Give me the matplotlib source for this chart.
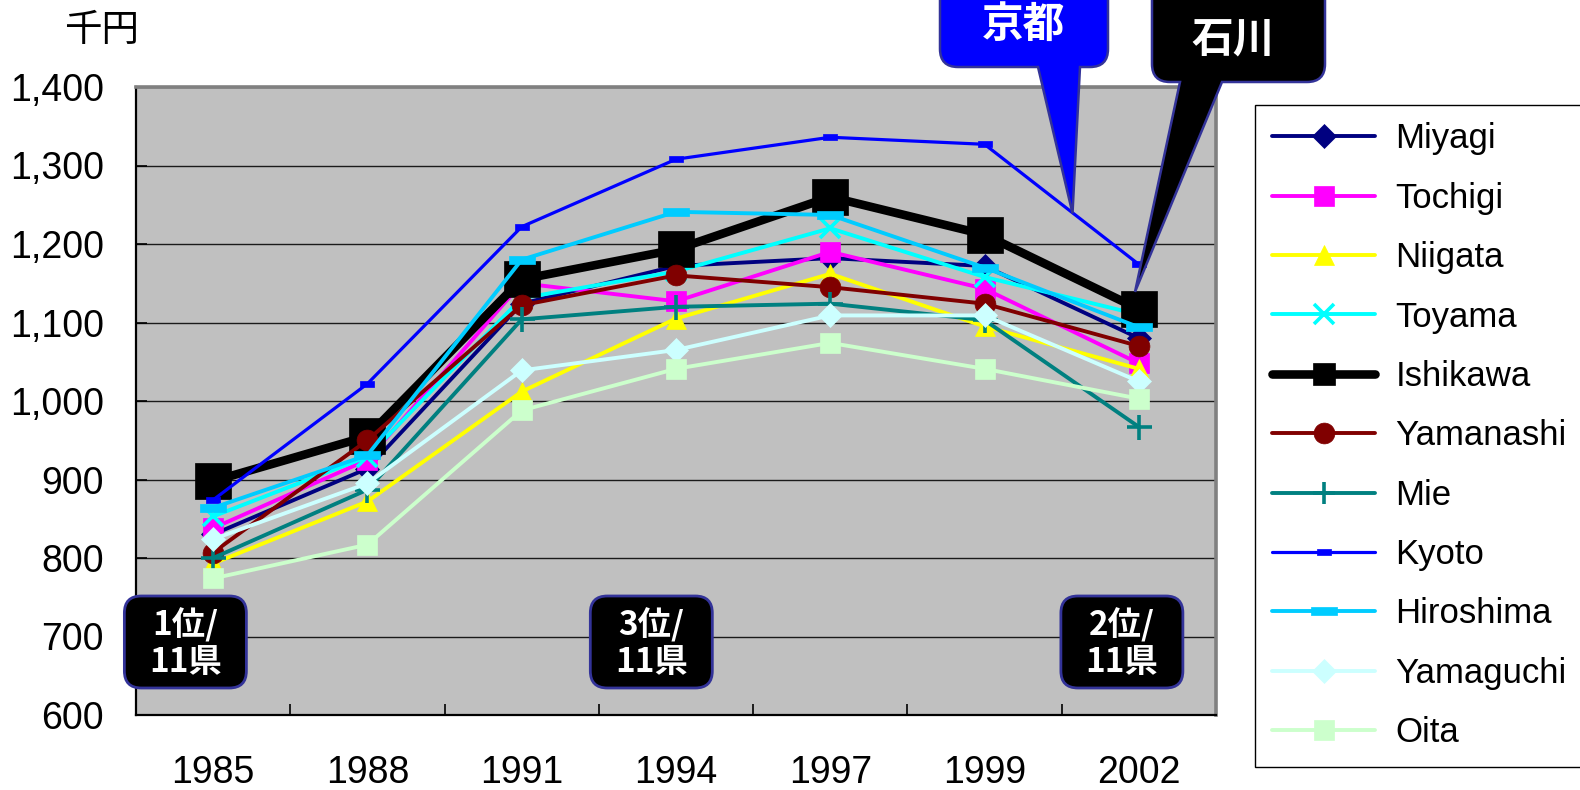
import matplotlib
matplotlib.use('Agg')
import matplotlib.pyplot as plt
from matplotlib.path import Path
from matplotlib.patches import PathPatch, FancyBboxPatch
from matplotlib.lines import Line2D
from matplotlib.transforms import ScaledTranslation, IdentityTransform
from matplotlib.ticker import FuncFormatter

plt.rcParams['font.family'] = ['Liberation Sans', 'Noto Sans CJK JP', 'DejaVu Sans']

# ---------------- data ----------------
years = ['1985', '1988', '1991', '1994', '1997', '1999', '2002']
miyagi = [830, 914, 1124, 1172, 1182, 1172, 1080]
tochigi = [838, 925, 1150, 1127, 1190, 1143, 1048]
niigata = [793, 872, 1012, 1105, 1162, 1095, 1041]
toyama = [853, 929, 1131, 1165, 1220, 1158, 1110]
ishikawa = [898, 955, 1155, 1193, 1260, 1212, 1117]
yamanashi = [807, 950, 1122, 1160, 1145, 1124, 1070]
mie = [800, 887, 1104, 1120, 1124, 1103, 967]
kyoto = [874, 1022, 1222, 1308, 1336, 1327, 1174]
hiroshima = [864, 931, 1180, 1241, 1237, 1170, 1094]
yamaguchi = [824, 895, 1039, 1065, 1109, 1109, 1025]
oita = [774, 817, 988, 1041, 1074, 1041, 1003]

series_names = ['Miyagi', 'Tochigi', 'Niigata', 'Toyama', 'Ishikawa', 'Yamanashi',
                'Mie', 'Kyoto', 'Hiroshima', 'Yamaguchi', 'Oita']
series_values = [miyagi, tochigi, niigata, toyama, ishikawa, yamanashi,
                 mie, kyoto, hiroshima, yamaguchi, oita]

rank_labels = ['1位/\n11県', '3位/\n11県', '2位/\n11県']
rank_index = [0, 3, 6]
unit_label = '千円'
callout_labels = ['京都', '石川']

# ---------------- styles ----------------
kyoto_mk = [(-1, -0.45), (1, -0.45), (1, 0.45), (-1, 0.45), (-1, -0.45)]
hiro_mk = [(-1, -0.3), (1, -0.3), (1, 0.3), (-1, 0.3), (-1, -0.3)]
styles = [
    dict(color='#000080', marker='D', ms=12, lw=2.8),
    dict(color='#FF00FF', marker='s', ms=15, lw=2.8),
    dict(color='#FFFF00', marker='^', ms=15, lw=2.8),
    dict(color='#00FFFF', marker='x', ms=15, lw=2.8, mew=2.6),
    dict(color='#000000', marker='s', ms=26, lw=6.2),
    dict(color='#800000', marker='o', ms=15, lw=2.8),
    dict(color='#008080', marker='+', ms=18, lw=2.8, mew=2.6),
    dict(color='#0000FF', marker=kyoto_mk, ms=9.5, lw=2.3),
    dict(color='#00CCFF', marker=hiro_mk, ms=19, lw=2.8),
    dict(color='#CCFFFF', marker='D', ms=12, lw=2.8),
    dict(color='#CCFFCC', marker='s', ms=15, lw=2.8),
]
legend_ms = [12, 15, 15, 15, 16, 15, 16, 9.5, 19, 12, 15]

W, H = 1580, 790
def fx(px):
    return px / W
def fy(py):
    return 1 - py / H

fig = plt.figure(figsize=(15.8, 7.9), dpi=100)
ax = fig.add_axes([fx(136), fy(715), (1216 - 136) / W, (715 - 87) / H])
ax.set_facecolor('#C0C0C0')

x = list(range(len(years)))
handles = []
for name, vals, st, lms in zip(series_names, series_values, styles, legend_ms):
    mew = st.get('mew', 0.5)
    ax.plot(x, vals, color=st['color'], lw=st['lw'], marker=st['marker'],
            ms=st['ms'], mfc=st['color'], mec=st['color'], mew=mew,
            solid_joinstyle='round', clip_on=False)
    handles.append(Line2D([], [], color=st['color'], lw=st['lw'], marker=st['marker'],
                          ms=lms, mfc=st['color'], mec=st['color'], mew=mew,
                          solid_capstyle='round', label=name))

ax.set_xlim(-0.5, len(years) - 0.5)
ax.set_ylim(600, 1400)
ax.set_yticks(range(600, 1401, 100))
ax.yaxis.set_major_formatter(FuncFormatter(lambda v, p: f'{int(v):,}'))
ax.set_xticks(x)
ax.set_xticklabels(years)
ax.set_xticks([i - 0.5 for i in range(len(years) + 1)], minor=True)
ax.tick_params(axis='x', which='major', length=0, pad=29, labelsize=27)
ax.tick_params(axis='x', which='minor', direction='in', length=8, width=1.2, color='black')
ax.tick_params(axis='y', which='major', direction='in', length=8, width=1.2,
               pad=23, labelsize=27, color='black')
ax.grid(axis='y', color='#1a1a1a', lw=1.0)
ax.set_axisbelow(True)
for s in ['left', 'bottom']:
    ax.spines[s].set_color('black')
    ax.spines[s].set_linewidth(1.6)
for s in ['top', 'right']:
    ax.spines[s].set_color('#808080')
    ax.spines[s].set_linewidth(2.6)

# unit label
fig.text(fx(102), fy(30), unit_label, ha='center', va='center', fontsize=27,
         family=['Noto Sans CJK JP'])

# legend
leg = fig.legend(handles=handles, loc='upper left', bbox_to_anchor=(fx(1255), fy(105)),
                 bbox_transform=fig.transFigure, borderaxespad=0, fontsize=25,
                 frameon=True, fancybox=False, framealpha=1, edgecolor='black',
                 handlelength=2.95, handletextpad=0.6, labelspacing=0.76,
                 borderpad=0.5)
leg.get_frame().set_linewidth(1.0)

# rank boxes at bottom
offsets = [-0.18, -0.16, -0.11]
for lab, idx, off in zip(rank_labels, rank_index, offsets):
    trans = fig.dpi_scale_trans + ScaledTranslation(idx + off, 693, ax.transData)
    w, h = 1.22, 0.92
    box = FancyBboxPatch((-w / 2, -h / 2), w, h,
                         boxstyle='round,pad=0,rounding_size=0.17',
                         fc='black', ec='#333399', lw=2, transform=trans, zorder=6)
    fig.add_artist(box)
    fig.text(idx + off, 691, lab, transform=ax.transData, ha='center', va='center',
             color='white', fontsize=24, fontweight='bold', linespacing=1.12,
             family=['Noto Sans CJK JP'], zorder=7)

# callouts
def callout(x0, x1, ybot_img, r, bx0, bx1, tip_data, color, text, tx_img, ty_img):
    tx, ty = ax.transData.transform(tip_data)
    Yb = H - ybot_img
    Yt = H + 60
    verts = [(x0 + r, Yb), (bx0, Yb), (tx, ty), (bx1, Yb), (x1 - r, Yb),
             (x1, Yb), (x1, Yb + r), (x1, Yt), (x0, Yt), (x0, Yb + r),
             (x0, Yb), (x0 + r, Yb), (x0 + r, Yb)]
    codes = [Path.MOVETO, Path.LINETO, Path.LINETO, Path.LINETO, Path.LINETO,
             Path.CURVE3, Path.CURVE3, Path.LINETO, Path.LINETO, Path.LINETO,
             Path.CURVE3, Path.CURVE3, Path.CLOSEPOLY]
    p = PathPatch(Path(verts, codes), fc=color, ec='#333399', lw=1.8,
                  transform=IdentityTransform(), zorder=6)
    fig.add_artist(p)
    fig.text(fx(tx_img), fy(ty_img), text, ha='center', va='center', color='white',
             fontsize=30, fontweight='bold', family=['Noto Sans CJK JP'], zorder=7)

callout(940, 1108, 67, 18, 1038, 1080, (5.57, 1239), '#0000FF', callout_labels[0], 1023, 25)
callout(1152, 1325, 82, 18, 1180, 1222, (5.975, 1139), '#000000', callout_labels[1], 1233, 40)

fig.savefig('out.png', dpi=100)
